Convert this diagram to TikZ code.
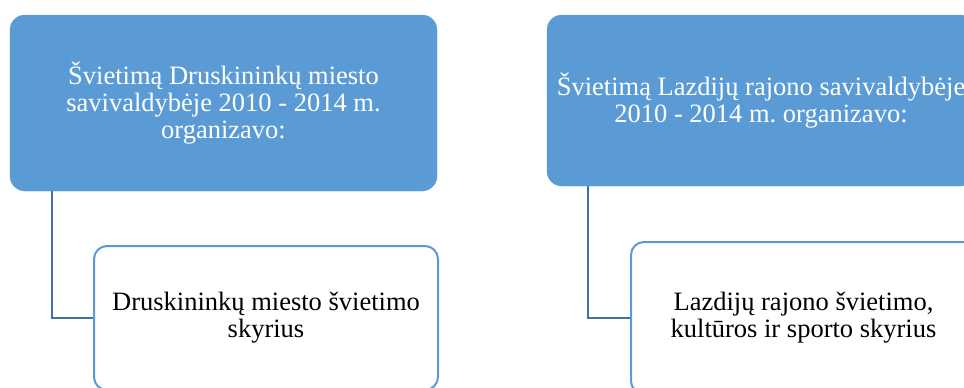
\documentclass[tikz,border=0pt]{standalone}
\usepackage{fontspec}
\setmainfont{Liberation Serif}
\frenchspacing
\definecolor{melyna}{HTML}{5B9BD5}
\definecolor{tamsi}{HTML}{41719C}
\tikzset{
  topbox/.style={fill=melyna, draw=melyna, rounded corners=15pt, text=white,
    align=center, font=\fontsize{26.5}{27}\selectfont, inner sep=0pt},
  childbox/.style={fill=white, draw=melyna, line width=2pt, rounded corners=13pt,
    align=center, font=\fontsize{26.5}{27}\selectfont, inner sep=0pt},
  link/.style={draw=tamsi, line width=2.2pt}
}
\begin{document}
\begin{tikzpicture}[x=1pt, y=-1pt]
        % ribos
        \useasboundingbox (0,0) rectangle (964,388);
        \clip (0,0) rectangle (964,388);

        % Druskininkai
        \node[topbox, minimum width=427pt, minimum height=176pt] (druskbox) at (223.5,103)
            {Švietimą Druskininkų miesto\\savivaldybėje 2010 - 2014 m.\\organizavo:};
        \node[childbox, minimum width=344pt, minimum height=144pt] (druskchild) at (266,318)
            {Druskininkų miesto švietimo\\skyrius};
        \draw[link] ([xshift=42pt]druskbox.south west) |- (druskchild.west);

        % Lazdijai
        \node[topbox, minimum width=428pt, minimum height=171pt] (lazdbox) at (761,100.5)
            {Švietimą Lazdijų rajono savivaldybėje\\2010 - 2014 m. organizavo:};
        \node[childbox, minimum width=345pt, minimum height=152pt] (lazdchild) at (803.5,318)
            {Lazdijų rajono švietimo,\\kultūros ir sporto skyrius};
        \draw[link] ([xshift=41pt]lazdbox.south west) |- (lazdchild.west);
\end{tikzpicture}
\end{document}
